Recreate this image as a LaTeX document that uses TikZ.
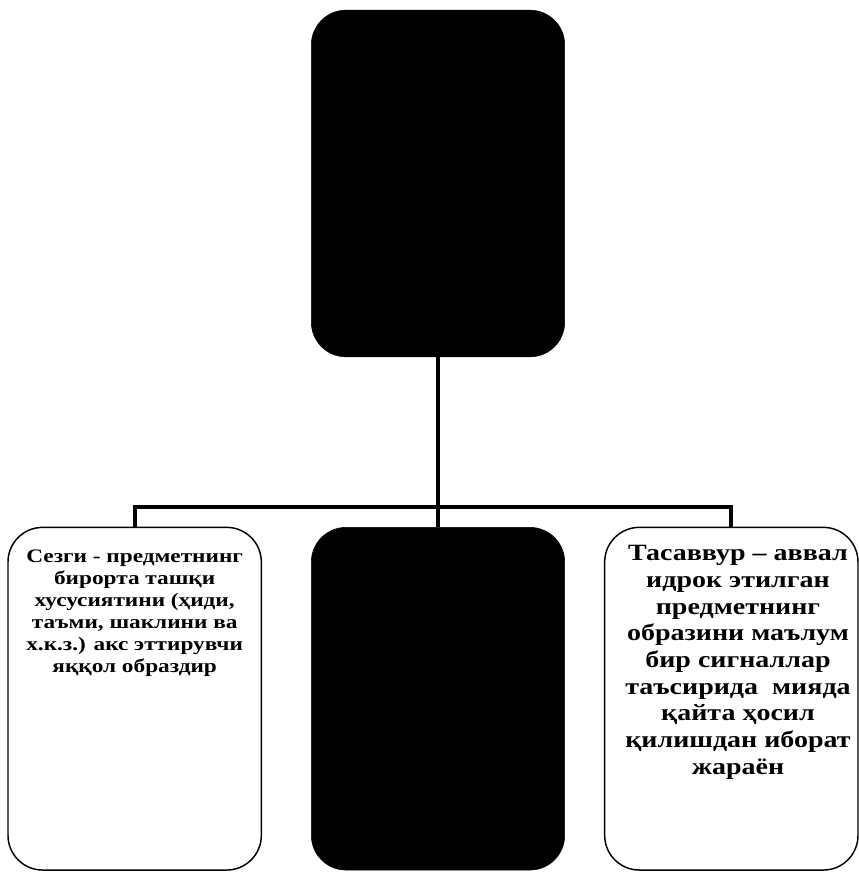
\documentclass[tikz,border=0pt]{standalone}
\usepackage{fontspec}
\setmainfont{Liberation Serif}
\newfontfamily\sezgifont[FakeStretch=1.22]{Liberation Serif}
\newfontfamily\tasavvurfont[FakeStretch=1.2]{Liberation Serif}
\usetikzlibrary{positioning}
\tikzstyle{dark}=[rectangle, rounded corners=26pt, fill=black, draw=black, minimum width=190pt, minimum height=257pt, inner sep=0pt]
\tikzstyle{light}=[rectangle, rounded corners=26pt, fill=white, draw=black, line width=1.1pt, minimum width=190pt, minimum height=257pt, inner sep=0pt]
\tikzstyle{caption}=[align=center, inner sep=0pt, font=\bfseries]

\begin{document}
\begin{tikzpicture}[
        x=0.75pt, y=-0.75pt,
        node distance = 127.5pt,
        line/.style={line width=3pt},
      ]
      \useasboundingbox (0,0) rectangle (858,873);
      \node (Top) [dark, minimum height=260pt] at (438,183.5) {};
      \node (Obraz) [dark, below=of Top] {};
      \node (Sezgi) [light, left=36.75pt of Obraz] {};
      \node (Tasavvur) [light, right=29.25pt of Obraz] {};
      \coordinate [above=15pt of Obraz.north] (Bar);
      \node (SezgiText) [caption, font=\sezgifont\bfseries\fontsize{14.3}{16.5}\selectfont, below=17pt of Sezgi.north]
            {
              Сезги - предметнинг\\
              бирорта ташқи\\
              хусусиятини (ҳиди,\\
              таъми, шаклини ва\\
              х.к.з.) акс эттирувчи\\
              яққол образдир
            };
      \node (TasavvurText) [caption, font=\tasavvurfont\bfseries\fontsize{17.5}{20}\selectfont, below=14pt of Tasavvur.north, xshift=5pt]
            {
              Тасаввур – аввал\\
              идрок этилган\\
              предметнинг\\
              образини маълум\\
              бир сигналлар\\
              таъсирида\ \ мияда\\
              қайта ҳосил\\
              қилишдан иборат\\
              жараён
            };
      \draw [line] (Top) -- (Obraz);
      \draw [line] (Sezgi.north) |- (Bar) -| (Tasavvur.north);
    \end{tikzpicture}
\end{document}
